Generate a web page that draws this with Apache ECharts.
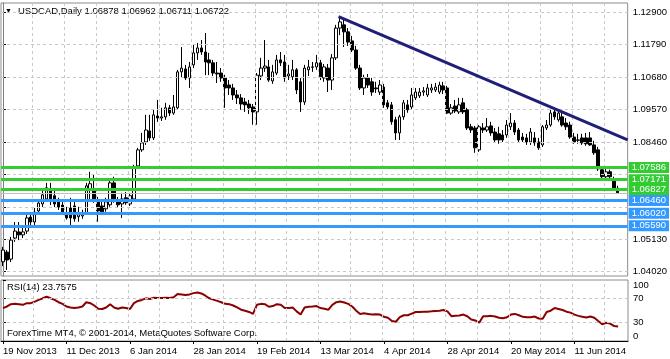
<!DOCTYPE html>
<html><head><meta charset="utf-8">
<script src="https://cdn.jsdelivr.net/npm/echarts@6/dist/echarts.min.js"></script>
<style>html,body{margin:0;padding:0;background:#fff}#c{width:670px;height:359px}</style>
</head><body><div id="c"></div>
<script>
// ---- data (USDCAD daily) ----
const open = [1.0436,1.0469,1.0445,1.0517,1.0538,1.0528,1.0541,1.0589,1.0572,1.0610,
1.0634,1.0651,1.0685,1.0662,1.0641,1.0630,1.0600,1.0620,1.0627,1.0590,
1.0593,1.0604,1.0686,1.0682,1.0645,1.0627,1.0617,1.0631,1.0706,1.0645,
1.0634,1.0655,1.0634,1.0651,1.0764,1.0819,1.0846,1.0884,1.0860,1.0935,
1.0928,1.0932,1.0963,1.0945,1.0963,1.1086,1.1096,1.1065,1.1110,1.1151,
1.1168,1.1154,1.1127,1.1117,1.1082,1.1082,1.1065,1.1041,1.1031,1.1007,
1.0997,1.0983,1.0976,1.0966,1.0949,1.1072,1.1099,1.1103,1.1055,1.1082,
1.1127,1.1120,1.1072,1.1069,1.1093,1.1052,1.0983,1.1093,1.1103,1.1103,
1.1117,1.1065,1.1099,1.1058,1.1134,1.1236,1.1247,1.1223,1.1192,1.1161,
1.1099,1.1031,1.1065,1.1052,1.1031,1.1017,1.1034,1.0980,1.0973,1.0922,
1.0877,1.0932,1.0973,1.0966,1.0997,1.1004,1.1017,1.1007,1.1024,1.1024,
1.1017,1.1038,1.1031,1.0945,1.0969,1.0949,1.0980,1.0956,1.0898,1.0894,
1.0819,1.0894,1.0887,1.0901,1.0880,1.0874,1.0870,1.0870,1.0898,1.0911,
1.0887,1.0863,1.0860,1.0846,1.0860,1.0846,1.0836,1.0894,1.0904,1.0949,
1.0922,1.0932,1.0911,1.0904,1.0863,1.0853,1.0860,1.0860,1.0860,1.0836,
1.0819,1.0751,1.0727,1.0744,1.0720,1.06878];
const high = [1.0487,1.0476,1.0521,1.0572,1.0572,1.0552,1.0603,1.0606,1.0620,1.0651,
1.0682,1.0706,1.0706,1.0682,1.0655,1.0648,1.0624,1.0655,1.0648,1.0624,
1.0614,1.0706,1.0744,1.0734,1.0658,1.0648,1.0655,1.0716,1.0727,1.0658,
1.0672,1.0675,1.0672,1.0768,1.0826,1.0877,1.0939,1.0939,1.0956,1.0990,
1.0963,1.0980,1.0973,1.1007,1.1093,1.1171,1.1110,1.1120,1.1178,1.1185,
1.1195,1.1219,1.1151,1.1127,1.1120,1.1099,1.1076,1.1058,1.1045,1.1024,
1.1010,1.0997,1.0990,1.0976,1.1082,1.1134,1.1195,1.1127,1.1110,1.1144,
1.1154,1.1144,1.1110,1.1127,1.1099,1.1065,1.1110,1.1127,1.1120,1.1144,
1.1127,1.1113,1.1113,1.1147,1.1247,1.1277,1.1270,1.1236,1.1209,1.1175,
1.1110,1.1076,1.1079,1.1065,1.1052,1.1058,1.1045,1.0990,1.0983,1.0932,
1.0939,1.0990,1.0990,1.1031,1.1031,1.1031,1.1034,1.1045,1.1045,1.1048,
1.1052,1.1052,1.1038,1.0976,1.0990,1.0997,1.0997,1.0963,1.0908,1.0901,
1.0904,1.0911,1.0928,1.0915,1.0894,1.0898,1.0887,1.0921,1.0945,1.0921,
1.0894,1.0877,1.0874,1.0894,1.0880,1.0860,1.0904,1.0921,1.0956,1.0963,
1.0959,1.0945,1.0928,1.0915,1.0877,1.0874,1.0874,1.0877,1.0880,1.0850,
1.0829,1.0757,1.0757,1.0751,1.0727,1.06962];
const low = [1.0421,1.0408,1.0435,1.0504,1.0510,1.0517,1.0531,1.0562,1.0562,1.0603,
1.0623,1.0641,1.0630,1.0623,1.0613,1.0600,1.0580,1.0562,1.0573,1.0573,
1.0583,1.0597,1.0648,1.0638,1.0573,1.0597,1.0607,1.0624,1.0638,1.0621,
1.0586,1.0631,1.0627,1.0645,1.0757,1.0812,1.0836,1.0850,1.0853,1.0915,
1.0918,1.0922,1.0935,1.0939,1.0956,1.1065,1.1058,1.1031,1.1099,1.1127,
1.1144,1.1075,1.1075,1.1072,1.1048,1.1052,1.0963,1.1007,1.0990,1.0976,
1.0956,1.0949,1.0942,1.0905,1.0905,1.1058,1.1086,1.1052,1.1045,1.1075,
1.1106,1.1052,1.1058,1.1058,1.1010,1.0949,1.0973,1.1072,1.1086,1.1093,
1.1058,1.1052,1.1017,1.1024,1.1127,1.1212,1.1171,1.1175,1.1154,1.1093,
1.1024,1.1007,1.1031,1.1004,1.1014,1.1007,1.0963,1.0956,1.0905,1.0853,
1.0853,1.0922,1.0946,1.0959,1.0990,1.0997,1.1004,1.1000,1.1014,1.1017,
1.1010,1.1010,1.0942,1.0939,1.0945,1.0942,1.0942,1.0887,1.0877,1.0809,
1.0812,1.0877,1.0880,1.0867,1.0846,1.0840,1.0846,1.0860,1.0887,1.0870,
1.0846,1.0846,1.0836,1.0836,1.0833,1.0819,1.0829,1.0887,1.0898,1.0922,
1.0915,1.0898,1.0887,1.0857,1.0840,1.0840,1.0836,1.0833,1.0833,1.0802,
1.0747,1.0720,1.0720,1.0716,1.0679,1.06711];
const close = [1.0476,1.0442,1.0510,1.0541,1.0528,1.0538,1.0586,1.0572,1.0606,1.0637,
1.0665,1.0689,1.0651,1.0634,1.0623,1.0606,1.0586,1.0586,1.0583,1.0597,
1.0600,1.0696,1.0703,1.0648,1.0610,1.0607,1.0641,1.0706,1.0648,1.0631,
1.0651,1.0638,1.0662,1.0761,1.0819,1.0843,1.0887,1.0860,1.0939,1.0928,
1.0932,1.0963,1.0945,1.0966,1.1086,1.1099,1.1065,1.1103,1.1151,1.1168,
1.1154,1.1120,1.1117,1.1082,1.1079,1.1065,1.1031,1.1031,1.1007,1.0997,
1.0976,1.0973,1.0963,1.0949,1.1075,1.1099,1.1106,1.1058,1.1086,1.1127,
1.1117,1.1065,1.1079,1.1093,1.1024,1.0983,1.1099,1.1103,1.1102,1.1117,
1.1069,1.1103,1.1058,1.1134,1.1236,1.1257,1.1223,1.1188,1.1161,1.1099,
1.1031,1.1065,1.1041,1.1017,1.1028,1.1041,1.0973,1.0966,1.0915,1.0877,
1.0932,1.0980,1.0956,1.1007,1.1017,1.1017,1.1021,1.1031,1.1031,1.1034,
1.1041,1.1024,1.0945,1.0963,1.0952,1.0973,1.0949,1.0894,1.0887,1.0826,
1.0898,1.0887,1.0898,1.0877,1.0853,1.0853,1.0853,1.0904,1.0911,1.0880,
1.0853,1.0853,1.0846,1.0880,1.0843,1.0826,1.0898,1.0904,1.0945,1.0932,
1.0945,1.0904,1.0898,1.0863,1.0846,1.0852,1.0843,1.0840,1.0836,1.0809,
1.0754,1.0727,1.0744,1.0727,1.0686,1.06722];
const rsi = [54,56.6,60.4,60.9,60.4,59.3,62,62,64.6,67.3,
70,72.6,70,67.3,63.6,60.9,56.6,55,54,55,
56.6,63.6,62,58.2,52.9,52.4,55,60.4,55,52.9,
55,54,52.4,62,65.7,67.3,70,68.9,71,70.5,
70.5,71,70.5,71.6,76.9,76.4,75.3,76.4,78.5,79.6,
78,74.2,70,67.8,65.7,63.6,60.9,60.4,58.2,55,
51.3,49.7,47.6,44.4,59.3,60.9,60.4,56.1,57.2,60.4,
59.3,54,54,55,48.6,43.3,55,56.1,56.6,57.2,
54,52.9,51.3,59.3,63.6,64.6,63,60.9,56.6,49.7,
44.4,45.4,44.4,43.3,43.8,43.3,39.6,38,32.7,31.6,
39,42.2,42.2,44.9,47.6,47.6,48.1,48.1,48.6,49.2,
49.7,50.8,48.6,40.6,41.2,41.7,43.3,40.6,35.3,33.7,
30,40.6,40.6,41.2,40.1,38,37.4,39,43.3,44.4,
42.2,39.6,39,39,40.1,36.9,36.4,47.6,49.7,54,
52.4,50.8,48.1,46.5,43.3,41.2,39.6,38.5,40.1,38,
32.7,27.5,30,28.5,24.5,23.7575];
const tickLabels = ['19 Nov 2013','11 Dec 2013','6 Jan 2014','28 Jan 2014','19 Feb 2014','13 Mar 2014','4 Apr 2014','28 Apr 2014','20 May 2014','11 Jun 2014'];
const priceTicks = [1.0402,1.0513,1.0624,1.0735,1.0846,1.0957,1.1068,1.1179,1.1290];
const priceLabelTicks = [1.0402,1.0513,1.0846,1.0957,1.1068,1.1179,1.1290];
const resistance = [1.07586,1.07171,1.06827];
const support = [1.06460,1.06020,1.05590];
const trendX = [84.6,157.5];
const trendY = [1.1275,1.0853];
const bidPrice = 1.06722;
const rsiLevels = [70,30];
const rsiTicks = [0,30,70,100];
const holidays = ['2013-12-25','2014-01-01'];

// ---- categories: trading days ----
const dates = [];
{ let d = new Date(Date.UTC(2013,10,19));
  while (dates.length < 158) {
    const w = d.getUTCDay(), iso = d.toISOString().slice(0,10);
    if (w !== 0 && w !== 6 && holidays.indexOf(iso) < 0) dates.push(iso);
    d.setUTCDate(d.getUTCDate()+1);
  } }
const N = dates.length;
const vGrid = []; for (let k = 8; k < N; k += 8) vGrid.push(k - 0.5);
const candles = open.map((o,i)=>[o, close[i], low[i], high[i]]);
const last = open.length - 1;

const F = '"Liberation Sans", Arial, sans-serif';
const FS = 9.5;
const green = '#33CC33', blue = '#3399FF';
const dashed = {type:[3,3], color:'#c8c8c8', width:1};

function hLine(v, style, label){
  return [{coord:[-0.5, v], lineStyle:style, label:label}, {coord:[N-0.5, v]}];
}
function vLine(x, lo, hi, style){
  return [{coord:[x, lo], lineStyle:style}, {coord:[x, hi]}];
}
function levelLabel(v, col){
  return {show:true, position:'end', distance:1, formatter:()=>v.toFixed(5), color:'#fff',
      backgroundColor:col, padding:[1,3,0,3], fontSize:FS, fontFamily:F};
}
const YMIN = 1.03872, YMAX = 1.13218;
const anchor = [[-0.5, YMIN]];   // invisible anchor so markLines have a coordinate system
const anchorR = [[-0.5, 0]];

const chart = echarts.init(document.getElementById('c'));
chart.setOption({
  animation:false,
  textStyle:{fontFamily:F},
  grid:[{left:1,right:42,top:3,height:273,show:true,borderColor:'#8c8c8c',borderWidth:1},
        {left:1,right:42,top:280,height:61,show:true,borderColor:'#8c8c8c',borderWidth:1}],
  xAxis:[
    {type:'category',gridIndex:0,data:dates,boundaryGap:true,axisLine:{show:false},axisTick:{show:false},axisLabel:{show:false},splitLine:{show:false}},
    {type:'value',gridIndex:0,min:-0.5,max:N-0.5,show:false},
    {type:'category',gridIndex:1,data:dates,boundaryGap:true,
      axisLine:{show:true,lineStyle:{color:'#000'}},
      axisTick:{show:true,alignWithLabel:true,interval:(i)=>i%16===0,length:3,lineStyle:{color:'#000'}},
      axisLabel:{interval:(i)=>i%16===0,formatter:(v,i)=>tickLabels[i/16]||'',align:'left',margin:5,fontSize:FS,color:'#000',fontFamily:F},
      splitLine:{show:false}},
    {type:'value',gridIndex:1,min:-0.5,max:N-0.5,show:false}
  ],
  yAxis:[
    {type:'value',gridIndex:0,position:'right',min:YMIN,max:YMAX,
      axisLine:{show:true,lineStyle:{color:'#7f7f7f',width:1}},
      axisTick:{show:true,customValues:priceTicks,length:3,lineStyle:{color:'#000'}},
      axisLabel:{customValues:priceLabelTicks,formatter:v=>Number(v).toFixed(5),fontSize:FS,color:'#000',margin:5,fontFamily:F},
      splitLine:{show:false}},
    {type:'value',gridIndex:1,position:'right',min:0,max:100,
      axisLine:{show:true,lineStyle:{color:'#7f7f7f',width:1}},
      axisTick:{show:true,customValues:rsiTicks,length:3,lineStyle:{color:'#000'}},
      axisLabel:{customValues:rsiTicks,fontSize:FS,color:'#000',margin:5,fontFamily:F,
        verticalAlignMaxLabel:'top',verticalAlignMinLabel:'bottom'},
      splitLine:{show:false}}
  ],
  series:[
    {type:'line',xAxisIndex:1,yAxisIndex:0,data:anchor,showSymbol:false,z:1,silent:true,lineStyle:{opacity:0},
      markLine:{silent:true,symbol:'none',animation:false,label:{show:false},lineStyle:dashed,
        data:[...priceTicks.map(v=>hLine(v,dashed,{show:false})),...vGrid.map(x=>vLine(x,YMIN,YMAX,dashed))]}},
    {type:'candlestick',xAxisIndex:0,yAxisIndex:0,data:candles,barWidth:3,z:2,
      itemStyle:{color:'#fff',color0:'#000',borderColor:'#000',borderColor0:'#000',borderWidth:1}},
    {type:'line',xAxisIndex:1,yAxisIndex:0,data:anchor,showSymbol:false,z:4,silent:true,lineStyle:{opacity:0},
      markLine:{silent:true,symbol:'none',animation:false,
        data:[hLine(bidPrice,{color:'#c0c0c0',width:1,type:'solid'},{show:false}),
          ...resistance.map(v=>hLine(v,{color:green,width:3,type:'solid'},levelLabel(v,green))),
          ...support.map(v=>hLine(v,{color:blue,width:3,type:'solid'},levelLabel(v,blue)))]}},
    {type:'line',xAxisIndex:1,yAxisIndex:0,z:5,symbol:'none',silent:true,
      data:trendX.map((x,i)=>[x,trendY[i]]),lineStyle:{color:'#1f1f78',width:3}},
    {type:'line',xAxisIndex:3,yAxisIndex:1,data:anchorR,showSymbol:false,z:1,silent:true,lineStyle:{opacity:0},
      markLine:{silent:true,symbol:'none',animation:false,label:{show:false},lineStyle:dashed,
        data:[...rsiLevels.map(v=>hLine(v,dashed,{show:false})),...vGrid.map(x=>vLine(x,0,100,dashed))]}},
    {type:'line',xAxisIndex:2,yAxisIndex:1,data:rsi,symbol:'none',z:3,silent:true,
      lineStyle:{color:'#8b0000',width:2}}
  ],
  graphic:[
    {type:'text',x:5,y:11,style:{text:'▼',fontSize:7,fill:'#000',verticalAlign:'middle'}},
    {type:'text',x:18,y:11,style:{text:'USDCAD,Daily '+open[last].toFixed(5)+' '+high[last].toFixed(5)+' '+low[last].toFixed(5)+' '+close[last].toFixed(5),
      fontSize:FS,fontFamily:F,fill:'#000',verticalAlign:'middle'}},
    {type:'text',x:7,y:287,style:{text:'RSI(14) '+rsi[last].toFixed(4),fontSize:FS,fontFamily:F,fill:'#000',verticalAlign:'middle'}},
    {type:'text',x:7,y:333,style:{text:'ForexTime MT4, © 2001-2014, MetaQuotes Software Corp.',fontSize:FS,fontFamily:F,fill:'#000',verticalAlign:'middle'}}
  ]
});
</script></body></html>
